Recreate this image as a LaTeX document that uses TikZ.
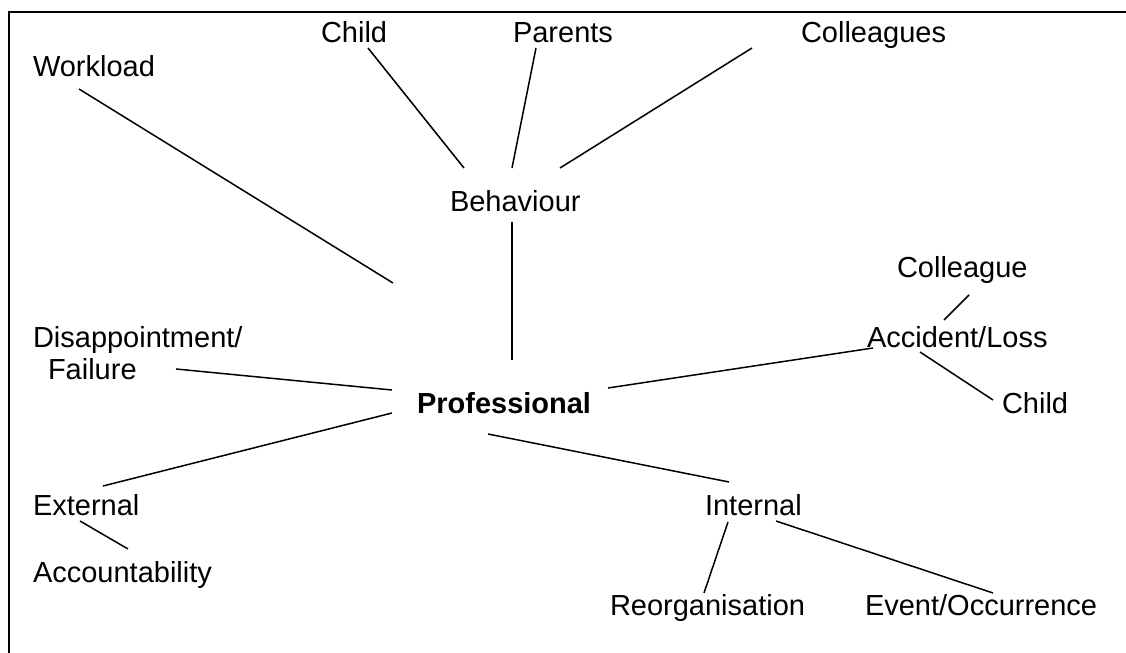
\documentclass[tikz,border=0pt]{standalone}
\usepackage{fontspec}
\setmainfont{Liberation Sans}
\begin{document}
\begin{tikzpicture}[x=0.5pt,y=-0.5pt,
  lbl/.style={anchor=base west, inner sep=0pt, outer sep=0pt, font=\fontsize{14.5}{17}\selectfont},
  conn/.style={line width=0.75pt, black},
  frame/.style={line width=1.25pt, black}]
\useasboundingbox (0,0) rectangle (1126,653);
\clip (0,0) rectangle (1126,653);
\draw[frame] (9,12) rectangle (1150,680);
% nodes
\node[lbl] (wl)   at (33,76)   {Workload};
\node[lbl] (ch1)  at (321,42)  {Child};
\node[lbl] (par)  at (513,42)  {Parents};
\node[lbl] (col)  at (801,42)  {Colleagues};
\node[lbl] (beh)  at (450,211) {Behaviour};
\node[lbl] (colg) at (897,277) {Colleague};
\node[lbl] (acc)  at (867,347) {Accident/Loss};
\node[lbl] (dis)  at (33,347)  {Disappointment/};
\node[lbl] (fail) at (48,379)  {Failure};
\node[lbl,font=\fontsize{14.5}{17}\selectfont\bfseries] (prof) at (417,413) {Professional};
\node[lbl] (ch2)  at (1002,413) {Child};
\node[lbl] (ext)  at (33,515)  {External};
\node[lbl] (int)  at (705,515) {Internal};
\node[lbl] (acct) at (33,582)  {Accountability};
\node[lbl] (reo)  at (610,615) {Reorganisation};
\node[lbl] (evt)  at (865,615) {Event/Occurrence};
% connectors
\draw[conn] ([shift={(46,13)}]wl.base west) -- ([shift={(-24,-130)}]prof.base west);
\draw[conn] ([shift={(47,6)}]ch1.base west) -- ([shift={(14,-43)}]beh.base west);
\draw[conn] ([shift={(23,6)}]par.base west) -- ([shift={(62,-43)}]beh.base west);
\draw[conn] ([shift={(-49,6)}]col.base west) -- ([shift={(110,-43)}]beh.base west);
\draw[conn] ([shift={(62,11)}]beh.base west) -- ([shift={(95,-53)}]prof.base west);
\draw[conn] ([shift={(72,18)}]colg.base west) -- ([shift={(77,-27)}]acc.base west);
\draw[conn] ([shift={(6,1)}]acc.base west) -- ([shift={(191,-25)}]prof.base west);
\draw[conn] ([shift={(53,5)}]acc.base west) -- ([shift={(-9,-13)}]ch2.base west);
\draw[conn] ([shift={(128,-10)}]fail.base west) -- ([shift={(-25,-23)}]prof.base west);
\draw[conn] ([shift={(70,-29)}]ext.base west) -- ([shift={(-25,0)}]prof.base west);
\draw[conn] ([shift={(47,6)}]ext.base west) -- ([shift={(95,-33)}]acct.base west);
\draw[conn] ([shift={(71,21)}]prof.base west) -- ([shift={(24,-33)}]int.base west);
\draw[conn] ([shift={(23,7)}]int.base west) -- ([shift={(94,-22)}]reo.base west);
\draw[conn] ([shift={(71,6)}]int.base west) -- ([shift={(128,-22)}]evt.base west);
\end{tikzpicture}
\end{document}
